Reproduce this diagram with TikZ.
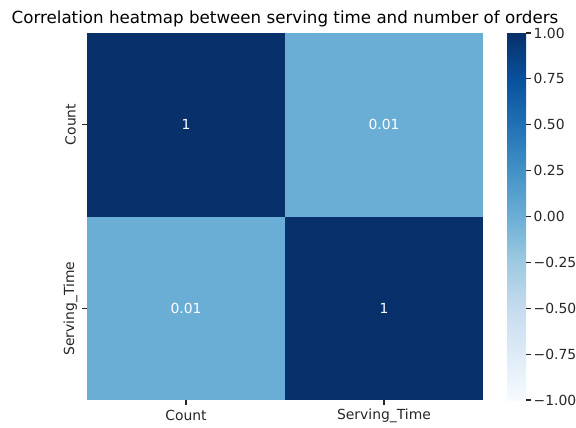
\documentclass[tikz,border=0pt]{standalone}
\usepackage{fontspec}
\setmainfont{DejaVu Sans}
\definecolor{bA}{HTML}{F7FBFF}
\definecolor{bB}{HTML}{DEEBF7}
\definecolor{bC}{HTML}{C6DBEF}
\definecolor{bD}{HTML}{9ECAE1}
\definecolor{bE}{HTML}{6BAED6}
\definecolor{bF}{HTML}{4292C6}
\definecolor{bG}{HTML}{2171B5}
\definecolor{bH}{HTML}{08519C}
\definecolor{bI}{HTML}{08306B}
\definecolor{light}{HTML}{6AAED6}
\definecolor{txt}{HTML}{262626}
\begin{document}
\begin{tikzpicture}[x=1pt,y=-1pt,
  lbl/.style={font=\fontsize{13.9}{16}\selectfont, text=txt, inner sep=0pt},
  ann/.style={font=\fontsize{13.9}{16}\selectfont, text=white, inner sep=0pt},
  tick/.style={draw=txt, line width=1.1pt}]
\useasboundingbox (0,0) rectangle (576,428);
% cells
\fill[bI] (87,33) rectangle (285,216.5);
\fill[light] (285,33) rectangle (483,216.5);
\fill[light] (87,216.5) rectangle (285,400);
\fill[bI] (285,216.5) rectangle (483,400);
\node[ann] (a11) at (186,124.5) {1};
\node[ann] (a12) at (384,124.5) {0.01};
\node[ann] (a21) at (186,308.5) {0.01};
\node[ann] (a22) at (384,308.5) {1};
% title
\node[font=\fontsize{16.7}{19}\selectfont, text=black, inner sep=0pt] (title) at (285,19) {Correlation heatmap between serving time and number of orders};
% axis ticks
\draw[tick] (87,124.5) -- (82.1,124.5);
\draw[tick] (87,308.5) -- (82.1,308.5);
\draw[tick] (186,400) -- (186,404.9);
\draw[tick] (384,400) -- (384,404.9);
\node[lbl, rotate=90] (yl1) at (70.5,124.5) {Count};
\node[lbl, rotate=90] (yl2) at (70.5,308.5) {Serving\_Time};
\node[lbl] (xl1) at (186,415.5) {Count};
\node[lbl] (xl2) at (384,415.5) {Serving\_Time};
% colorbar
\foreach \c/\d [count=\i from 0] in {bA/bB,bB/bC,bC/bD,bD/bE,bE/bF,bF/bG,bG/bH,bH/bI}{
  \shade[bottom color=\c, top color=\d, shading angle=0] (507,{400-\i*45.875}) rectangle (526,{400-(\i+1)*45.875+0.3});
}
\foreach \v [count=\i from 0] in {{1.00},{0.75},{0.50},{0.25},{0.00},{−0.25},{−0.50},{−0.75},{−1.00}}{
  \draw[tick] (526,{33+\i*45.875}) -- (530.9,{33+\i*45.875});
  \node[lbl, anchor=west] (cb\i) at (533.5,{33+\i*45.875}) {\v};
}
\end{tikzpicture}
\end{document}
